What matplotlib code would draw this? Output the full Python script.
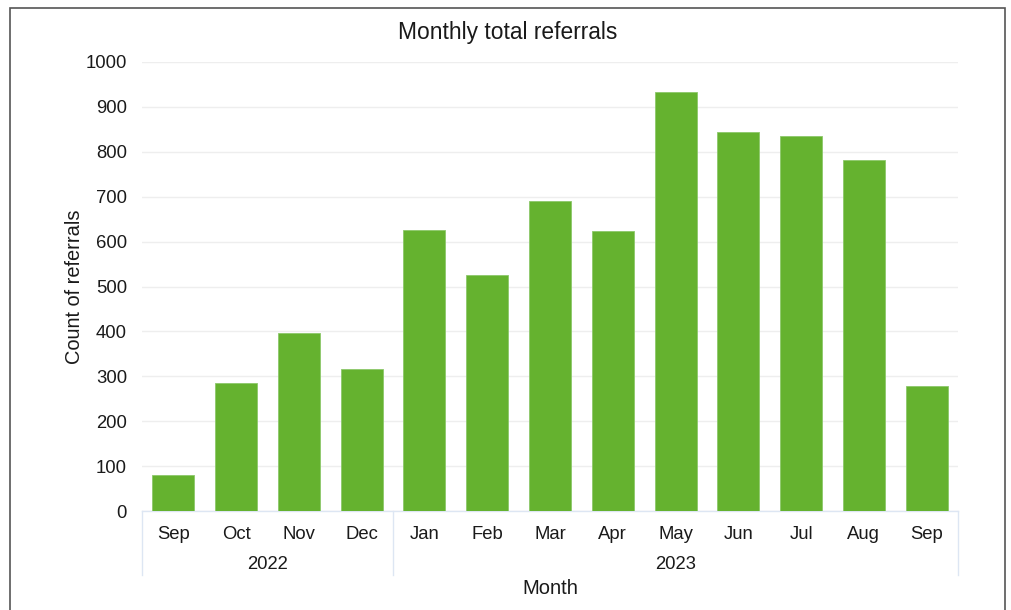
import matplotlib
matplotlib.use("Agg")
import matplotlib.pyplot as plt
from matplotlib.lines import Line2D
from matplotlib.patches import Rectangle

months = ["Sep", "Oct", "Nov", "Dec", "Jan", "Feb", "Mar", "Apr",
          "May", "Jun", "Jul", "Aug", "Sep"]
years = ["2022", "2023"]
year_counts = [4, 9]
referrals = [80, 285, 397, 316, 626, 526, 690, 624, 934, 845, 835, 781, 278]

plt.rcParams["font.family"] = ["Liberation Sans", "DejaVu Sans"]

W, H = 1012, 610
fig = plt.figure(figsize=(W / 100, H / 100), dpi=100)

# outer frame
fig.patches.append(Rectangle((10 / W, -0.05), 995 / W, 1.05 - 8 / H,
                             transform=fig.transFigure, fill=False,
                             edgecolor="#555555", linewidth=1.2))

ax_l, ax_r, ax_b, ax_t = 142, 958, 511, 62
ax = fig.add_axes([ax_l / W, 1 - ax_b / H, (ax_r - ax_l) / W, (ax_b - ax_t) / H])

x = list(range(len(months)))
ax.bar(x, referrals, width=0.67, color="#65b22f", edgecolor="#8cc86a",
       linewidth=0.6, zorder=3)

ax.set_xlim(-0.5, len(months) - 0.5)
ax.set_ylim(0, 1000)
ax.set_yticks(range(0, 1001, 100))
ax.tick_params(axis="y", length=0, pad=10.8, labelsize=13.3, labelcolor="#1a1a1a")
ax.grid(axis="y", color="#eeeeee", linewidth=1.0, zorder=0)
ax.set_axisbelow(True)
for s in ["top", "right", "left"]:
    ax.spines[s].set_visible(False)
ax.spines["bottom"].set_color("#dde6f3")
ax.spines["bottom"].set_linewidth(1.0)

ax.set_xticks(x)
ax.set_xticklabels(months, fontsize=13.3, color="#1a1a1a")
ax.tick_params(axis="x", length=0, pad=11)

# year group labels and separators
px_per_cat = (ax_r - ax_l) / len(months)
start = 0
bounds = [0]
for yr, n in zip(years, year_counts):
    center = start + n / 2 - 0.5
    ax.text(center, -0.12, yr, transform=ax.get_xaxis_transform(),
            ha="center", va="center", fontsize=13.3, color="#1a1a1a")
    start += n
    bounds.append(start)
for b in bounds:
    xp = ax_l + b * px_per_cat
    fig.lines.append(Line2D([xp / W, xp / W], [1 - 511 / H, 1 - 575 / H],
                            transform=fig.transFigure, color="#dde6f3",
                            linewidth=1.0))

ax.set_xlabel("Month", fontsize=14.5, color="#1a1a1a")
ax.xaxis.set_label_coords(0.5, -0.172)
ax.xaxis.label.set_va("center")
ax.set_ylabel("Count of referrals", fontsize=14.4, color="#1a1a1a")
ax.yaxis.set_label_coords(-0.0827, 0.5)
ax.yaxis.label.set_va("center")

fig.text(508 / W, 1 - 32 / H, "Monthly total referrals", ha="center",
         va="center", fontsize=16.4, color="#1a1a1a")

fig.savefig("out.png", dpi=100)
